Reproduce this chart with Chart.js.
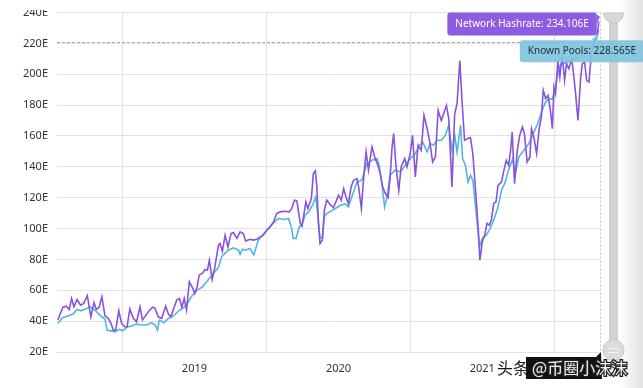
<!DOCTYPE html>
<html lang="zh">
<head>
<meta charset="UTF-8">
<title>Network Hashrate</title>
<style>
    body { margin: 0; background: #fff; }
    #wrap { position: relative; width: 643px; height: 388px; overflow: hidden; }
</style>
</head>
<body>
<div id="wrap"><canvas id="hashChart" width="643" height="388"></canvas></div>
<script src="https://cdn.jsdelivr.net/npm/chart.js"></script>
<script>
// days counted from startDate
const startDate = '2018-07-20';
const yearTicks = [2019, 2020, 2021, 2022];
const yearLabels = ['2019', '2020', '2021'];
const cursorValue = 221;

const hashDays = [0, 13, 22, 29, 35, 41, 49, 58, 66, 75, 84, 92, 98, 105, 112, 120, 128, 135, 141, 147,
    155, 162, 170, 176, 183, 192, 200, 209, 215, 224, 232, 241, 247, 255, 264, 274, 281, 287, 293, 302,
    309, 315, 321, 327, 334, 343, 348, 354, 359, 368, 374, 380, 385, 392, 399, 408, 412, 418, 425, 432,
    440, 446, 455, 463, 471, 477, 488, 497, 505, 514, 522, 531, 539, 548, 556, 565, 577, 588, 594, 601,
    607, 616, 620, 624, 630, 635, 644, 649, 654, 658, 662, 666, 672, 677, 683, 692, 700, 705, 713, 720,
    726, 732, 738, 745, 751, 760, 764, 771, 777, 783, 789, 798, 806, 813, 819, 825, 832, 839, 844, 849,
    853, 859, 866, 872, 881, 887, 895, 901, 908, 915, 923, 930, 938, 944, 952, 959, 966, 974, 980, 987,
    993, 1001, 1008, 1014, 1021, 1027, 1033, 1040, 1048, 1054, 1061, 1068, 1072, 1078, 1084, 1090, 1096, 1101, 1107, 1113,
    1118, 1127, 1133, 1139, 1145, 1150, 1154, 1160, 1167, 1173, 1180, 1185, 1192, 1199, 1203, 1209, 1216, 1222, 1228, 1233,
    1239, 1245, 1251, 1256, 1260, 1264, 1270, 1275, 1281, 1287, 1292, 1298, 1305, 1310, 1315, 1321, 1328, 1332, 1338, 1343,
    1349, 1355, 1362, 1370, 1374];
const hashValues = [40.7, 49, 49.7, 47.6, 54.7, 49.3, 54, 50.4, 51.5, 56.5, 42.8, 52, 47.6, 49, 55.8, 43.3, 41.8, 38.6, 34.2, 34.2,
    46.7, 38.6, 36.4, 36.4, 47.8, 41.8, 39.6, 49.3, 40.7, 43.9, 46.7, 49, 48.3, 42.8, 41.8, 49.7, 44.6, 42.8, 47.2, 53.6,
    54.7, 49, 54.7, 47.2, 65.5, 61.2, 58, 62.3, 69.8, 71.3, 73.5, 73, 79.5, 67, 75.2, 89.2, 90.3, 85.3, 95.7, 88.1,
    96.8, 97.4, 93.6, 97.9, 96.8, 92, 93, 92.5, 93, 94.6, 95.7, 99, 101, 104.3, 109.7, 110.8, 111.2, 110.8, 113, 118.4,
    118, 103.3, 101.5, 107.6, 117.3, 113, 119.4, 135.6, 137.3, 127, 103.3, 90.3, 92.5, 111.9, 118.4, 115.5, 113.5, 116.5, 121.6, 118.4,
    125.9, 120.5, 116.2, 127, 131.3, 132.4, 127, 113, 133.5, 149.6, 137.8, 152.9, 145.3, 141, 135.6, 127, 122.7, 120.1, 133.5, 152.9,
    161.5, 140, 124.8, 140, 145.3, 140, 148.6, 160.4, 133.5, 154, 150.7, 173.3, 164.7, 157.2, 143.1, 146.4, 176.6, 170.1, 174.4, 179.8,
    171.2, 127, 174.4, 180.9, 208.9, 180.9, 157.2, 158.2, 158.9, 148.6, 124.8, 99, 79.5, 91.4, 95.7, 103.3, 102.2, 105.4, 116.2, 117.3,
    128, 130.2, 137.8, 144.2, 141, 150.7, 162.5, 129.1, 150.7, 160.4, 165.8, 161.5, 143.1, 146.4, 164.7, 159.3, 148.6, 163.6, 172.2, 189.5,
    184.1, 186.3, 176.6, 164.7, 191.6, 187.4, 208.9, 198.1, 213.3, 196, 206.8, 203.6, 210, 200, 187.4, 170.1, 198.1, 206.8, 207.8, 196,
    194.9, 213.3, 220.8, 225.1, 234.106];

const poolDays = [0, 13, 25, 39, 49, 58, 75, 81, 92, 107, 120, 125, 135, 145, 156, 165, 175, 187, 200, 213,
    226, 238, 247, 253, 258, 270, 281, 293, 310, 327, 340, 353, 366, 378, 391, 408, 416, 433, 446, 459,
    463, 469, 476, 488, 498, 509, 531, 548, 560, 573, 586, 594, 598, 605, 613, 620, 628, 637, 647, 655,
    661, 666, 672, 677, 683, 692, 705, 717, 730, 738, 751, 760, 772, 785, 798, 811, 816, 823, 830, 836,
    844, 857, 870, 883, 895, 908, 918, 927, 938, 946, 954, 963, 974, 984, 993, 1001, 1008, 1014, 1023, 1028,
    1035, 1042, 1048, 1054, 1061, 1066, 1071, 1078, 1088, 1096, 1107, 1118, 1127, 1135, 1145, 1155, 1162, 1171, 1184, 1196,
    1209, 1219, 1230, 1239, 1247, 1256, 1264, 1273, 1281, 1294, 1307, 1320, 1328, 1341, 1349, 1357, 1366, 1374];
const poolValues = [38.6, 42.4, 43.3, 44.6, 47.6, 46.7, 48.3, 49.3, 47.6, 43.9, 41.2, 34.2, 33.7, 33.1, 34.7, 33.7, 36, 36.8, 38.1, 37.5,
    37.5, 39, 37.5, 34.2, 40.7, 39, 41.8, 43.3, 47.2, 50.4, 56.2, 60.1, 61.9, 65.5, 69.5, 74.8, 81.7, 86, 87.5, 86,
    83.2, 86.6, 86, 87.1, 83, 92.5, 99, 103.7, 106.5, 105.9, 106.5, 100, 93.6, 93.6, 101, 102.2, 108.6, 110.8, 115.1, 120.5,
    107.6, 93.6, 94.6, 107.6, 109.7, 111, 113, 115.1, 116, 114, 123.7, 130.2, 131.3, 142.1, 144.2, 145.3, 141, 129.1, 114, 120.5,
    134.5, 137.8, 136.7, 141, 145.3, 148.6, 153.9, 156, 149.6, 155, 154, 157.2, 157.2, 160.4, 166.9, 150.7, 160.4, 149.6, 166.9, 145.3,
    141, 130.2, 134.5, 131.3, 114, 101, 88.1, 93.6, 95.7, 99, 105.4, 114, 124.8, 129.1, 138, 145, 135.6, 146.4, 150.7, 155,
    162.5, 168, 176.6, 182, 184.1, 184, 191.6, 204.6, 206.8, 207.8, 208.9, 211, 212, 215.4, 216, 217.5, 223, 228.565];

const DAY = 86400000;
const t0 = Date.parse(startDate + 'T00:00:00Z');
function toPoints(days, values) {
    return days.map((d, i) => ({ x: t0 + d * DAY, y: values[i] }));
}
const janTicks = yearTicks.map(y => Date.UTC(y, 0, 1));
const midTicks = yearLabels.map(y => Date.UTC(+y, 6, 2));

function roundRect(ctx, x, y, w, h, r) {
    ctx.beginPath();
    ctx.moveTo(x + r, y);
    ctx.lineTo(x + w - r, y);
    ctx.quadraticCurveTo(x + w, y, x + w, y + r);
    ctx.lineTo(x + w, y + h - r);
    ctx.quadraticCurveTo(x + w, y + h, x + w - r, y + h);
    ctx.lineTo(x + r, y + h);
    ctx.quadraticCurveTo(x, y + h, x, y + h - r);
    ctx.lineTo(x, y + r);
    ctx.quadraticCurveTo(x, y, x + r, y);
    ctx.closePath();
}

const overlay = {
    id: 'overlay',
    beforeDraw(chart) {
        const ctx = chart.ctx;
        ctx.save();
        ctx.fillStyle = '#fff';
        ctx.fillRect(0, 0, chart.width, chart.height);
        // right side shade
        const g = ctx.createLinearGradient(619, 0, 643, 0);
        g.addColorStop(0, '#ffffff');
        g.addColorStop(1, '#e2e2e2');
        ctx.fillStyle = g;
        ctx.fillRect(619, 0, 24, chart.height);
        // scrollbar
        ctx.fillStyle = '#d2d2d2';
        ctx.fillRect(609, 16, 9, 334);
        ctx.beginPath();
        ctx.arc(613.5, 13, 10, 0, Math.PI);
        ctx.closePath();
        ctx.fillStyle = '#d8d8d8';
        ctx.fill();
        ctx.strokeStyle = '#c4c4c4';
        ctx.stroke();
        ctx.beginPath();
        ctx.arc(613.5, 350, 10.5, 0, Math.PI * 2);
        ctx.fillStyle = '#dcdcdc';
        ctx.fill();
        ctx.strokeStyle = '#c8c8c8';
        ctx.stroke();
        ctx.strokeStyle = '#f4f4f4';
        ctx.lineWidth = 1;
        ctx.beginPath();
        ctx.moveTo(608, 348.5); ctx.lineTo(619, 348.5);
        ctx.moveTo(608, 352.5); ctx.lineTo(619, 352.5);
        ctx.stroke();
        ctx.restore();
    },
    afterDraw(chart) {
        const ctx = chart.ctx;
        const area = chart.chartArea;
        const xs = chart.scales.x, ys = chart.scales.y;
        ctx.save();
        // cover the top of the cut-off label
        ctx.fillStyle = '#fff';
        ctx.fillRect(0, 0, 55, 10);

        // cursor lines
        const cy = Math.round(ys.getPixelForValue(cursorValue)) + 0.5;
        ctx.strokeStyle = '#a8a8a8';
        ctx.lineWidth = 1;
        ctx.setLineDash([3, 2]);
        ctx.beginPath();
        ctx.moveTo(area.left, cy);
        ctx.lineTo(area.right, cy);
        ctx.stroke();
        ctx.strokeStyle = '#c4c4c4';
        ctx.setLineDash([2, 2]);
        ctx.beginPath();
        ctx.moveTo(area.right + 0.5, area.top);
        ctx.lineTo(area.right + 0.5, area.bottom);
        ctx.stroke();
        ctx.setLineDash([]);

        // tooltips
        const hLast = hashValues.length - 1, pLast = poolValues.length - 1;
        const px1 = xs.getPixelForValue(t0 + hashDays[hLast] * DAY);
        const py1 = ys.getPixelForValue(hashValues[hLast]);
        const px2 = xs.getPixelForValue(t0 + poolDays[pLast] * DAY);
        const py2 = ys.getPixelForValue(poolValues[pLast]);
        ctx.font = '10px "Noto Sans", sans-serif';
        ctx.textBaseline = 'middle';
        ctx.textAlign = 'center';

        const t1 = 'Network Hashrate: ' + hashValues[hLast].toFixed(3) + 'E';
        const w1 = ctx.measureText(t1).width + 16;
        const r1 = px1 - 2, top1 = py1 - 9;
        ctx.fillStyle = '#8c5de0';
        roundRect(ctx, r1 - w1, top1, w1, 23, 3);
        ctx.fill();
        ctx.beginPath();
        ctx.moveTo(r1, top1 + 2);
        ctx.lineTo(px1 + 1, py1 - 5);
        ctx.lineTo(r1, top1 + 12);
        ctx.closePath();
        ctx.fill();
        ctx.fillStyle = '#fff';
        ctx.fillText(t1, r1 - w1 / 2, top1 + 12);

        const t2 = 'Known Pools: ' + poolValues[pLast].toFixed(3) + 'E';
        const w2 = ctx.measureText(t2).width + 16;
        const l2 = px2 - 79, top2 = py2 + 10;
        ctx.fillStyle = 'rgba(128, 196, 222, 0.92)';
        roundRect(ctx, l2, top2, w2, 22, 3);
        ctx.fill();
        ctx.beginPath();
        ctx.moveTo(px2 - 8, top2);
        ctx.lineTo(px2 - 1, py2 + 4);
        ctx.lineTo(px2 - 1, top2);
        ctx.closePath();
        ctx.fill();
        ctx.fillStyle = '#1f2a30';
        ctx.fillText(t2, l2 + w2 / 2, top2 + 11.5);

        // watermark
        ctx.fillStyle = '#111';
        ctx.beginPath();
        ctx.moveTo(526, 357);
        ctx.lineTo(596, 357);
        ctx.lineTo(601, 352);
        ctx.lineTo(602, 379);
        ctx.lineTo(526, 379);
        ctx.closePath();
        ctx.fill();
        ctx.font = '16px "Noto Sans CJK SC", sans-serif';
        ctx.textAlign = 'left';
        ctx.fillStyle = '#1a1a1a';
        ctx.fillText('头条', 497, 368);
        ctx.lineWidth = 2.5;
        ctx.strokeStyle = '#222';
        ctx.strokeText('@币圈小沫沫', 532, 368);
        ctx.fillStyle = '#f2f2f2';
        ctx.fillText('@币圈小沫沫', 532, 368);
        ctx.restore();
    }
};

const ctx = document.getElementById('hashChart').getContext('2d');
const hashChart = new Chart(ctx, {
    type: 'line',
    data: {
        datasets: [{
            label: 'Network Hashrate',
            data: toPoints(hashDays, hashValues),
            borderColor: '#8953dc',
            borderWidth: 1.6,
            pointRadius: 0,
            tension: 0,
            fill: false
        }, {
            label: 'Known Pools',
            data: toPoints(poolDays, poolValues),
            borderColor: '#52b6e0',
            borderWidth: 1.6,
            pointRadius: 0,
            tension: 0,
            fill: false
        }]
    },
    options: {
        responsive: false,
        animation: false,
        events: [],
        layout: { padding: { left: 0, right: 43, top: 12.5, bottom: 0 } },
        plugins: { legend: { display: false }, tooltip: { enabled: false } },
        scales: {
            x: {
                type: 'linear',
                min: t0 - 2 * DAY,
                max: t0 + 1377 * DAY,
                afterBuildTicks(scale) {
                    scale.ticks = janTicks.concat(midTicks).sort((a, b) => a - b).map(v => ({ value: v }));
                },
                afterFit(scale) {
                    scale.height = 36;
                    scale.paddingLeft = 0;
                    scale.paddingRight = 0;
                },
                grid: {
                    drawTicks: false,
                    color: c => (c.tick && janTicks.includes(c.tick.value)) ? '#e2e2e2' : 'rgba(0,0,0,0)'
                },
                border: { display: false },
                ticks: {
                    autoSkip: false,
                    maxRotation: 0,
                    padding: 10,
                    color: '#333',
                    font: { family: '"Noto Sans", sans-serif', size: 11 },
                    callback: v => {
                        const i = midTicks.indexOf(v);
                        return i >= 0 ? yearLabels[i] : '';
                    }
                }
            },
            y: {
                min: 20,
                max: 240,
                afterFit(scale) {
                    scale.width = 57;
                    scale.paddingTop = 0;
                    scale.paddingBottom = 0;
                },
                grid: { drawTicks: false, color: '#e2e2e2' },
                border: { display: false },
                ticks: {
                    stepSize: 20,
                    padding: 9,
                    color: '#333',
                    font: { family: '"Noto Sans", sans-serif', size: 11 },
                    callback: v => v + 'E'
                }
            }
        }
    },
    plugins: [overlay]
});
</script>
</body>
</html>
